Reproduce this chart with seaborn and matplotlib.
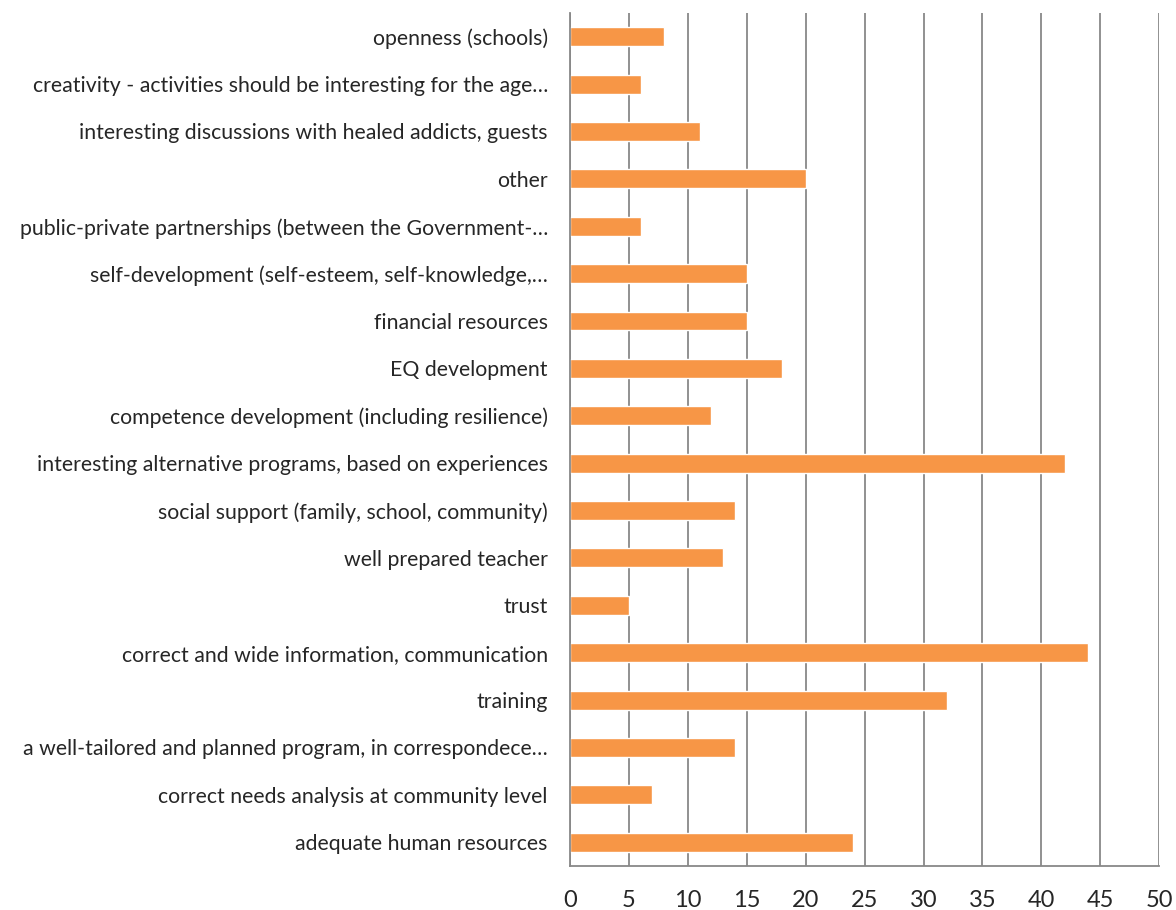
import matplotlib
matplotlib.use("Agg")
import matplotlib.pyplot as plt
import seaborn as sns
import pandas as pd
import numpy as np

categories = [
    "openness (schools)",
    "creativity - activities should be interesting for the age…",
    "interesting discussions with healed addicts, guests",
    "other",
    "public-private partnerships (between the Government-…",
    "self-development (self-esteem, self-knowledge,…",
    "financial resources",
    "EQ development",
    "competence development (including resilience)",
    "interesting alternative programs, based on experiences",
    "social support (family, school, community)",
    "well prepared teacher",
    "trust",
    "correct and wide information, communication",
    "training",
    "a well-tailored and planned program, in correspondece…",
    "correct needs analysis at community level",
    "adequate human resources",
]
values = [8, 6, 11, 20, 6, 15, 15, 18, 12, 42, 14, 13, 5, 44, 32, 14, 7, 24]
xticks = [0, 5, 10, 15, 20, 25, 30, 35, 40, 45, 50]

sns.set_style("white")
plt.rcParams['font.family'] = ['Lato', 'DejaVu Sans']

df = pd.DataFrame({"cat": categories, "val": values})

fig = plt.figure(figsize=(11.76, 9.10), dpi=100)
ax = fig.add_axes([0.4847, 0.0484, 0.501, 0.9373])

sns.barplot(data=df, y="cat", x="val", orient="h", color="#F79646",
            saturation=1, width=0.4, ax=ax)

grid_c = "#888888"
ax.set_xlim(0, 50)
ax.set_ylim(len(categories) - 0.5, -0.5)
ax.set_xticks(xticks)
ax.set_xticklabels([str(t) for t in xticks], fontsize=17)
ax.xaxis.grid(True, color=grid_c, linewidth=1.3)
ax.set_axisbelow(True)
ax.set_xlabel("")
ax.set_ylabel("")

for s in ["top", "right"]:
    ax.spines[s].set_visible(False)
for s in ["left", "bottom"]:
    ax.spines[s].set_color(grid_c)
    ax.spines[s].set_linewidth(1.3)

ax.tick_params(axis="x", direction="out", length=8, width=1.3, color=grid_c, pad=9)
ax.tick_params(axis="y", which="major", length=0, pad=16, labelsize=15.3)
ax.set_yticks(np.arange(-0.5, len(categories), 1.0), minor=True)
ax.tick_params(axis="y", which="minor", direction="out", length=6, width=1.3, color=grid_c)

fig.savefig("out.png", dpi=100)
